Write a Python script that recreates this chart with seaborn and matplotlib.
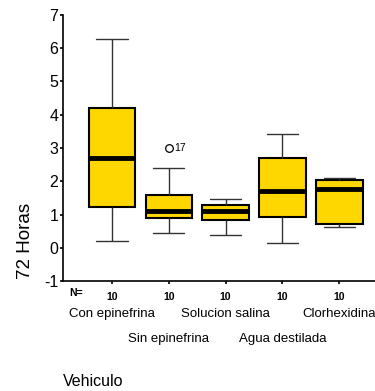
import numpy as np
import pandas as pd
import seaborn as sns
import matplotlib
matplotlib.use("Agg")
import matplotlib.pyplot as plt
from matplotlib.transforms import blended_transform_factory

sns.set_theme(style="white")
plt.rcParams["font.family"] = ["Liberation Sans", "DejaVu Sans"]
plt.rcParams["text.color"] = "black"
plt.rcParams["xtick.color"] = "black"
plt.rcParams["ytick.color"] = "black"

# Vehicle groups and the 72-hour readings (10 cases each)
vehiculos = ["Con epinefrina", "Sin epinefrina", "Solucion salina",
             "Agua destilada", "Clorhexidina"]
con_epinefrina = [0.2, 0.9, 1.2, 1.32, 2.5, 2.9, 4.0, 4.27, 5.1, 6.27]
sin_epinefrina = [0.45, 0.8, 0.9, 0.9, 1.05, 1.15, 1.5, 1.63, 2.4, 3.0]
solucion_salina = [0.39, 0.7, 0.8, 1.0, 1.05, 1.15, 1.25, 1.3, 1.4, 1.47]
agua_destilada = [0.15, 0.6, 0.9, 1.02, 1.6, 1.82, 2.6, 2.73, 3.1, 3.42]
clorhexidina = [0.63, 0.65, 0.7, 0.78, 1.7, 1.84, 2.03, 2.06, 2.08, 2.1]
n_casos = ["10", "10", "10", "10", "10"]
outlier_label = "17"
y_ticks = [-1, 0, 1, 2, 3, 4, 5, 6, 7]

series = [con_epinefrina, sin_epinefrina, solucion_salina, agua_destilada, clorhexidina]
df = pd.DataFrame({
    "Vehiculo": np.repeat(vehiculos, [len(s) for s in series]),
    "Horas72": np.concatenate(series),
})

fig = plt.figure(figsize=(3.75, 3.91), dpi=100)
ax = fig.add_axes([0.168, 0.281, 0.832, 0.681])

sns.boxplot(
    data=df, x="Vehiculo", y="Horas72", order=vehiculos, ax=ax,
    color="#FFD700", saturation=1, width=0.82, whis=1.5,
    linecolor="black", linewidth=1.0,
    boxprops=dict(edgecolor="black", linewidth=1.5),
    medianprops=dict(color="black", linewidth=3.5),
    whiskerprops=dict(color="#333333", linewidth=1.0),
    capprops=dict(color="#333333", linewidth=1.0),
    flierprops=dict(marker="o", markersize=5.5, markerfacecolor="none",
                    markeredgecolor="black", markeredgewidth=0.9),
    capwidths=0.55,
)

# label the outlier with its case number
vals = np.array(sin_epinefrina)
ax.text(1.1, vals.max(), outlier_label, fontsize=7.5, ha="left", va="center")

ax.set_xlim(-0.863, 4.63)
ax.set_ylim(-1, 7)
ax.set_yticks(y_ticks)
ax.set_yticklabels([str(t) for t in y_ticks], fontsize=11.5)
ax.set_xticks(range(len(vehiculos)))
ax.set_xticklabels(n_casos, fontsize=7.5, fontweight="bold")
ax.tick_params(axis="both", direction="out", length=2.5, width=1.2, color="black",
               left=True, bottom=True, pad=2)
ax.tick_params(axis="x", pad=5)
ax.tick_params(axis="y", pad=1)

for side in ["top", "right"]:
    ax.spines[side].set_visible(False)
for side in ["left", "bottom"]:
    ax.spines[side].set_color("black")
    ax.spines[side].set_linewidth(1.2)

ax.set_xlabel("")
ax.set_ylabel("")

trans = blended_transform_factory(ax.transData, fig.transFigure)
ax.text(-0.75, 1 - 293 / 391, "N=", transform=trans, fontsize=7.5,
        fontweight="bold", ha="left", va="center")
for i, name in enumerate(vehiculos):
    y = 1 - (314 if i % 2 == 0 else 339) / 391
    ax.text(i, y, name, transform=trans, fontsize=9.5, ha="center", va="center")

fig.text(63 / 375, 1 - 382 / 391, "Vehiculo", fontsize=11.5, ha="left", va="center")
fig.text(25 / 375, 1 - 241 / 391, "72 Horas", fontsize=13.5, rotation=90,
         ha="center", va="center")

fig.savefig("out.png", dpi=100)
